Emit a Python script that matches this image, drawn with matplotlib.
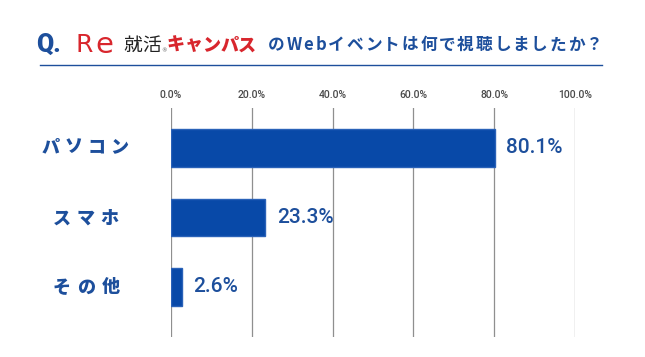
import matplotlib
matplotlib.use("Agg")
import matplotlib.pyplot as plt
from matplotlib.lines import Line2D

categories = ["パソコン", "スマホ", "その他"]
values = [80.1, 23.3, 2.6]
ticks = [0, 20, 40, 60, 80, 100]
tick_labels = ["0.0%", "20.0%", "40.0%", "60.0%", "80.0%", "100.0%"]

BLUE = "#0849a8"
TBLUE = "#1d4f9c"
RED = "#d8262d"
FONT = ["Noto Sans CJK JP", "DejaVu Sans"]
LATIN = ["Roboto", "DejaVu Sans"]

W, H = 645, 357
fig = plt.figure(figsize=(W / 100, H / 100), dpi=100)
fig.patch.set_facecolor("white")

ax = fig.add_axes([171 / W, 1 - 337 / H, (575 - 171) / W, (337 - 108) / H])
y = list(range(len(categories)))
ax.barh(y, values, height=0.535, color=BLUE, edgecolor="#2a62b8", linewidth=1.0, zorder=3)
ax.set_xlim(0, 100)
ax.set_ylim(2.72, -0.575)
ax.set_xticks(ticks)
ax.set_xticklabels(tick_labels)
ax.xaxis.tick_top()
ax.tick_params(axis="x", length=0, pad=6, labelsize=7.5, labelcolor="#4a4a4a")
for lab in ax.get_xticklabels():
    lab.set_family(LATIN)
    lab.set_fontweight("medium")
ax.set_yticks([])
for s in ax.spines.values():
    s.set_visible(False)
ax.grid(axis="x", color="#8f8f8f", linewidth=0.9, zorder=0)

for yi, v in zip(y, values):
    ax.annotate(f"{v}%", (v, yi), xytext=(8.5, 0), textcoords="offset points",
                va="center", ha="left", fontsize=15, color=TBLUE,
                family=LATIN, fontweight="medium")

fig.canvas.draw()
renderer = fig.canvas.get_renderer()


def spaced(text, x0, ypx, size, color, weight="bold", gap=0.0, family=FONT, x1=None):
    arts = []
    widths = []
    for ch in text:
        t = fig.text(0, 1 - ypx / H, ch, fontsize=size, color=color,
                     fontweight=weight, family=family, va="center", ha="left")
        arts.append(t)
        widths.append(t.get_window_extent(renderer).width)
    if x1 is not None and len(text) > 1:
        gap = (x1 - x0 - sum(widths)) / (len(text) - 1)
    x = x0
    for t, w in zip(arts, widths):
        t.set_x(x / W)
        x += w + gap
    return x


# category labels
label_pos = [(42, 128, 147), (53, 118, 218), (53, 120, 287)]
for cat, (xa, xb, yy) in zip(categories, label_pos):
    spaced(cat, xa, yy, 13, TBLUE, weight="black", x1=xb)

# title
ty = 45
fig.text(36 / W, 1 - (ty - 0.5) / H, "Q.", fontsize=18, color=TBLUE, fontweight="black",
         family=LATIN, va="center", ha="left")
fig.text(75 / W, 1 - ty / H, "R", fontsize=18, color=RED, fontweight="normal",
         family=["DejaVu Sans"], va="center", ha="left")
fig.text(95 / W, 1 - ty / H, "e", fontsize=21, color=RED, fontweight="normal",
         family=["DejaVu Sans"], va="center", ha="left")
spaced("就活", 123, ty, 13.5, "#222222", weight="normal", x1=161)
fig.text(161 / W, 1 - 51 / H, "®", fontsize=4, color="#555555", va="center")
spaced("キャンパス", 167, ty, 13, RED, weight="black", x1=256)
spaced("のWebイベントは何で視聴しましたか？", 268, ty, 12, TBLUE, weight="bold", x1=603)

fig.add_artist(Line2D([40 / W, 602 / W], [1 - 65 / H, 1 - 65 / H], color=TBLUE, linewidth=1))

fig.savefig("out.png", dpi=100, facecolor="white")
